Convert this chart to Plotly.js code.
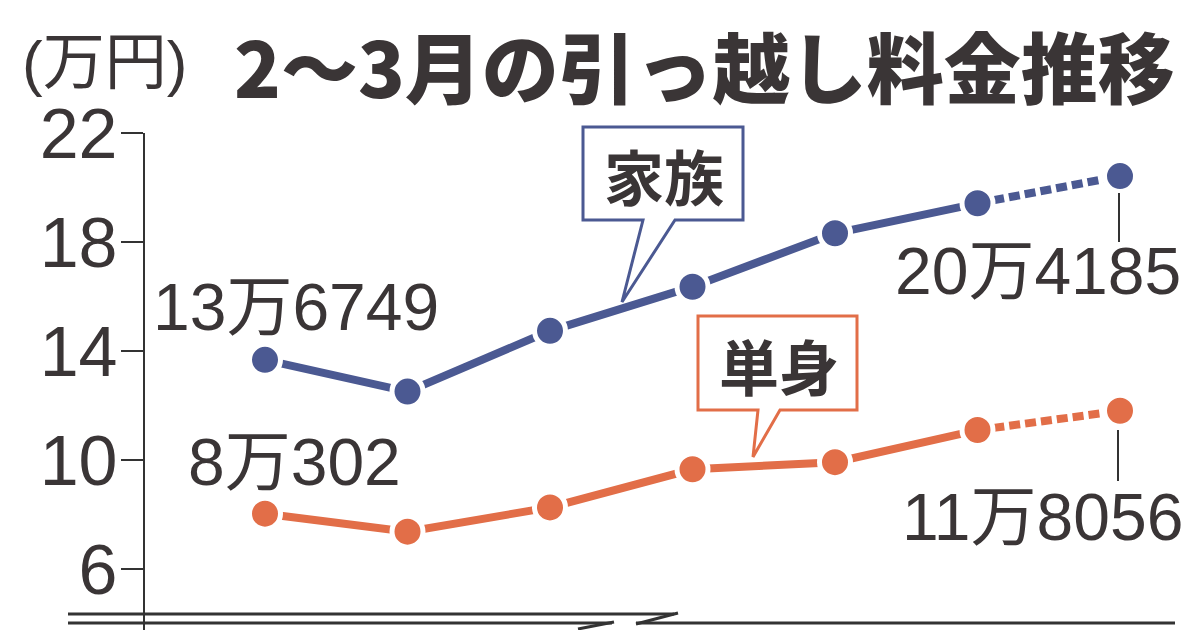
<!DOCTYPE html>
<html>
<head>
<meta charset="utf-8">
<script src="https://cdn.plot.ly/plotly-3.0.1.min.js"></script>
<style>html,body{margin:0;padding:0;background:#fff;}#chart{width:1200px;height:630px;}</style>
</head>
<body>
<div id="chart"></div>
<script>
// ---- data ----
const months = [0, 1, 2, 3, 4, 5, 6];
const familyValues = [13.6749, 12.51, 14.74, 16.36, 18.32, 19.42, 20.4185];
const singleValues = [8.0302, 7.37, 8.26, 9.66, 9.92, 11.10, 11.8056];
const familyLabels = ["13万6749", "20万4185"];
const singleLabels = ["8万302", "11万8056"];
const yTicks = [6, 10, 14, 18, 22];
const seriesNames = ["家族", "単身"];
const titleText = "2～3月の引っ越し料金推移";
const unitText = "(万円)";

// ---- style ----
const BLUE = "rgb(75,89,146)";
const ORANGE = "rgb(226,110,72)";
const INK = "#3a3536";
const AX = "#333";
const W = 1200, H = 630, L = 145, T = 133;
const px = x => (x - L) / (W - L);
const py = y => (H - y) / (H - T);
const numFont = "Liberation Sans, Arial, Noto Sans CJK JP, sans-serif";
const cjkBold = "Noto Sans CJK JP, sans-serif";

function lineTrace(xs, ys, color, dash) {
  return {x: xs, y: ys, type: "scatter", mode: "lines", cliponaxis: false,
    line: {color: color, width: 8, dash: dash}, hoverinfo: "skip", showlegend: false};
}
function markerTrace(xs, ys, color) {
  return {x: xs, y: ys, type: "scatter", mode: "markers", cliponaxis: false,
    marker: {color: color, size: 31, line: {color: "#fff", width: 5}}, hoverinfo: "skip", showlegend: false};
}
const n = months.length;
const traces = [
  lineTrace(months.slice(0, n - 1), familyValues.slice(0, n - 1), BLUE, "solid"),
  lineTrace(months.slice(n - 2), familyValues.slice(n - 2), BLUE, "11px,5px"),
  lineTrace(months.slice(0, n - 1), singleValues.slice(0, n - 1), ORANGE, "solid"),
  lineTrace(months.slice(n - 2), singleValues.slice(n - 2), ORANGE, "11px,5px"),
  markerTrace(months, familyValues, BLUE),
  markerTrace(months, singleValues, ORANGE)
];

function seg(x0, y0, x1, y1, color, w) {
  return {type: "line", xref: "paper", yref: "paper", x0: px(x0), y0: py(y0), x1: px(x1), y1: py(y1),
    line: {color: color, width: w}, layer: "above"};
}
function callout(pts, color) {
  let d = "M" + pts.map(p => px(p[0]) + "," + py(p[1])).join(" L") + " Z";
  return {type: "path", xref: "paper", yref: "paper", path: d, fillcolor: "#fff",
    line: {color: color, width: 3}, layer: "above"};
}
const shapes = [
  // broken baseline
  seg(68, 614, 674, 614, AX, 3),
  seg(68, 623, 612, 623, AX, 3),
  seg(578, 629, 614, 622, AX, 3),
  seg(636, 624, 678, 613, AX, 3),
  seg(636, 623, 1175, 623, AX, 3),
  // leader lines
  seg(1119, 193, 1119, 242, AX, 2),
  seg(1118, 430, 1118, 481, AX, 2),
  // callouts
  callout([[583,127],[743,127],[743,220],[675,220],[622,302],[643,220],[583,220]], BLUE),
  callout([[698,316],[857,316],[857,410],[780,410],[753,457],[758,410],[698,410]], ORANGE)
];

function ann(text, x, y, size, family, color, weight) {
  return {text: text, xref: "paper", yref: "paper", x: px(x), y: py(y), xanchor: "center", yanchor: "middle",
    showarrow: false, font: {size: size, family: family, color: color, weight: weight || "normal"}};
}
const annotations = [
  ann(titleText, 704, 64, 77, cjkBold, INK, 900),
  ann(unitText, 104, 62, 62, numFont, INK),
  ann(familyLabels[0], 296, 307, 66, numFont, INK),
  ann(familyLabels[1], 1038, 271, 66, numFont, INK),
  ann(singleLabels[0], 294, 462, 66, numFont, INK),
  ann(singleLabels[1], 1042, 517, 66, numFont, INK),
  ann(seriesNames[0], 664, 174, 60, cjkBold, INK, 700),
  ann(seriesNames[1], 779, 364, 60, cjkBold, INK, 700)
];

const layout = {
  width: W, height: H,
  margin: {l: L, r: 0, t: T, b: 0, pad: 0},
  paper_bgcolor: "#fff", plot_bgcolor: "#fff",
  showlegend: false,
  xaxis: {range: [-120 / 142.5, -120 / 142.5 + (W - L) / 142.5], visible: false, fixedrange: true},
  yaxis: {range: [22 - (H - T) / 27.25, 22], tickvals: yTicks, ticktext: yTicks.map(String),
    ticks: "outside", ticklen: 22, tickwidth: 2.5, tickcolor: AX,
    showline: true, linecolor: AX, linewidth: 2.5, showgrid: false, zeroline: false,
    ticklabelstandoff: -11,
    tickfont: {size: 70, family: numFont, color: INK}, fixedrange: true},
  shapes: shapes,
  annotations: annotations
};
Plotly.newPlot("chart", traces, layout, {displayModeBar: false, staticPlot: true});
</script>
</body>
</html>
